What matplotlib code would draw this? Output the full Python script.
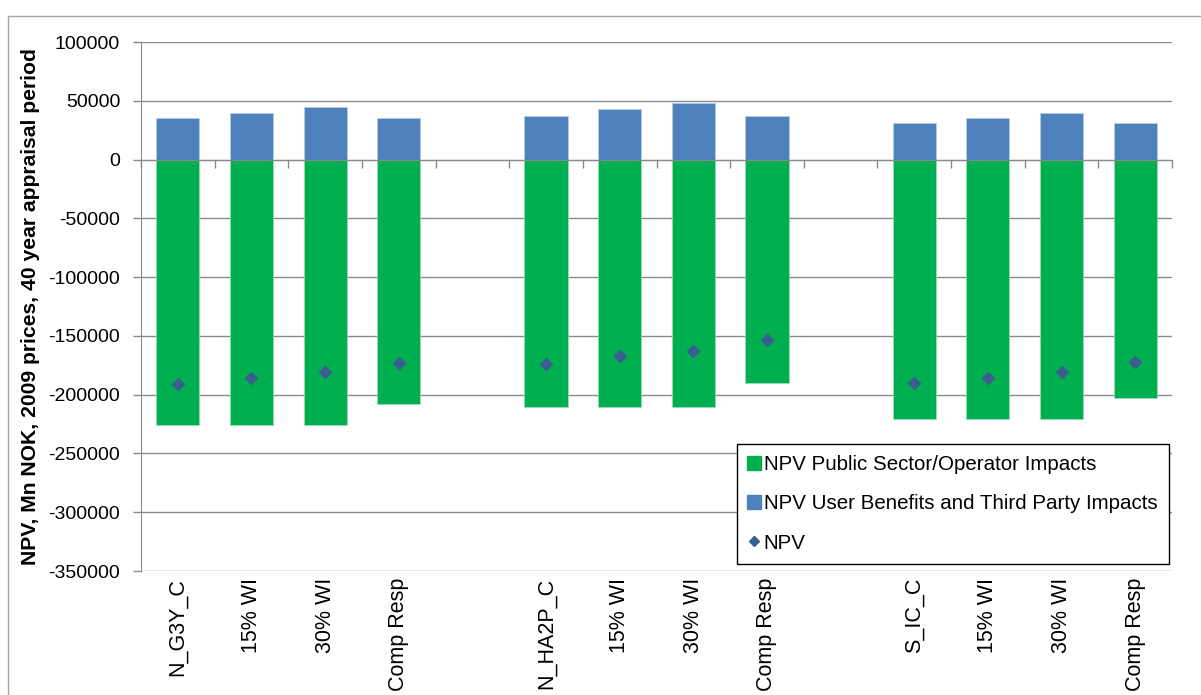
import matplotlib
matplotlib.use("Agg")
import matplotlib.pyplot as plt
import numpy as np
from matplotlib.lines import Line2D

plt.rcParams['font.family'] = ['Liberation Sans', 'DejaVu Sans']

categories = ["N_G3Y_C", "15% WI", "30% WI", "Comp Resp", "",
              "N_HA2P_C", "15% WI", "30% WI", "Comp Resp", "",
              "S_IC_C", "15% WI", "30% WI", "Comp Resp"]
public_sector = [-226000, -226000, -226000, -208000, np.nan,
                 -210500, -210500, -210500, -190500, np.nan,
                 -221000, -221000, -221000, -203000]
user_benefits = [35000, 40000, 45000, 35000, np.nan,
                 37000, 43000, 48000, 37000, np.nan,
                 31000, 35000, 40000, 31000]
npv = [-191000, -186000, -181000, -173000, np.nan,
       -173500, -167500, -162500, -153500, np.nan,
       -190000, -186000, -181000, -172000]
yticks = list(range(-350000, 100001, 50000))

GREEN = "#00B050"
BLUE = "#4F81BD"
DIAMOND = "#3A5F8F"
GRID = "#8A8A8A"

W, H = 1201, 695
fig = plt.figure(figsize=(W / 100, H / 100), dpi=100)
ax = fig.add_axes([141 / W, 1 - 571 / H, (1172 - 141) / W, (571 - 42) / H])

# spine layout first (set_position resets tick settings)
ax.spines['top'].set_position(('data', 0))
ax.spines['top'].set_color(GRID)
ax.spines['bottom'].set_visible(False)
ax.spines['right'].set_visible(False)
ax.spines['left'].set_color(GRID)

x = np.arange(len(categories))
ax.bar(x, public_sector, width=0.585, color=GREEN, edgecolor="#9fdcb8",
       linewidth=0.5, zorder=2)
ax.bar(x, user_benefits, width=0.585, color=BLUE, edgecolor="#b9cce4",
       linewidth=0.5, zorder=2)
ax.plot(x, npv, linestyle="None", marker="D", markersize=6.6,
        color=DIAMOND, zorder=3)

ax.set_xlim(-0.5, len(categories) - 0.5)
ax.set_ylim(-350000, 100000)
ax.set_yticks(yticks)
ax.set_yticklabels([str(v) for v in yticks], fontsize=14)
ax.yaxis.grid(True, color=GRID, linewidth=1.0)
ax.set_axisbelow(True)

# category labels at bottom, no tick marks
ax.set_xticks(x)
ax.set_xticklabels(categories, rotation=90, fontsize=15.5, va='top', ha='center')
ax.tick_params(axis='x', which='major', length=0, pad=5, bottom=True, top=False,
               labelbottom=True, labeltop=False)
# boundary tick marks along the zero line
ax.set_xticks(np.arange(-0.5, len(categories), 1.0), minor=True)
ax.tick_params(axis='x', which='minor', top=True, bottom=False, direction='in',
               length=6, width=1.0, color=GRID, labeltop=False, labelbottom=False)
ax.tick_params(axis='y', length=6, width=1.0, color=GRID, pad=9)

ax.set_ylabel("NPV, Mn NOK, 2009 prices, 40 year appraisal period",
              fontsize=15.2, fontweight='bold', labelpad=6)

handles = [
    Line2D([], [], linestyle="None", marker="s", markersize=9.5, color=GREEN),
    Line2D([], [], linestyle="None", marker="s", markersize=9.5, color=BLUE),
    Line2D([], [], linestyle="None", marker="D", markersize=5.5, color=DIAMOND),
]
labels = ["NPV Public Sector/Operator Impacts",
          "NPV User Benefits and Third Party Impacts",
          "NPV"]
leg = fig.legend(handles, labels, loc='upper left',
                 bbox_to_anchor=(737 / W, 1 - 444 / H), fontsize=14.8,
                 frameon=True, fancybox=False, edgecolor='black',
                 framealpha=1, handlelength=0.6, handletextpad=0.15,
                 labelspacing=0.98, borderpad=0.55, borderaxespad=0)
leg.get_frame().set_linewidth(1.0)

# chart area border (top and left visible)
fig.add_artist(Line2D([8.3 / W, 1.0], [1 - 15.7 / H, 1 - 15.7 / H],
                      transform=fig.transFigure, color="#A6A6A6", linewidth=1.0))
fig.add_artist(Line2D([8.3 / W, 8.3 / W], [1 - 15.7 / H, 0.0],
                      transform=fig.transFigure, color="#A6A6A6", linewidth=1.0))

fig.savefig("out.png", dpi=100)
